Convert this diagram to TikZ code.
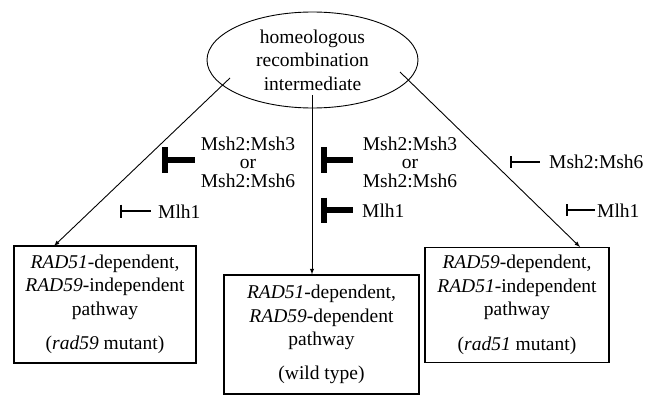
\documentclass[tikz,border=0pt]{standalone}
\usepackage{fontspec}
\setmainfont{Liberation Serif}
\usetikzlibrary{shapes.geometric}
\usetikzlibrary{arrows}

\begin{document}
\begin{tikzpicture}[x=1pt,y=-1pt,>=latex,
  pathbox/.style={draw,line width=1.1pt,inner sep=0pt,align=center,
    font=\fontsize{19.5}{23.5}\selectfont},
  weakbar/.style={line width=1.1pt},
  strongbar/.style={line width=5.5pt},
  factor/.style={inner sep=0pt,align=center,font=\fontsize{19.5}{18.5}\selectfont}]
  \path [fill=white] (0,0) rectangle (654,396);
  \useasboundingbox (0,0) rectangle (654,396);
  % the intermediate
  \node [ellipse,draw,line width=0.9pt,minimum width=211pt,minimum height=96pt,
    inner sep=0pt,align=center,font=\fontsize{19.5}{23.5}\selectfont]
    (hri) at (312.5,60) {homeologous\\recombination\\intermediate};
  % the three pathways
  \node [pathbox,minimum width=182pt,minimum height=117pt] (rad59mut) at (105,304.5)
    {\textit{RAD51}-dependent,\\\textit{RAD59}-independent\\pathway\\[11pt](\textit{rad59} mutant)};
  \node [pathbox,minimum width=195pt,minimum height=119pt] (wt) at (321.5,334.5)
    {\textit{RAD51}-dependent,\\\textit{RAD59}-dependent\\pathway\\[10.5pt](wild type)};
  \node [pathbox,minimum width=184pt,minimum height=115pt] (rad51mut) at (517,305)
    {\textit{RAD59}-dependent,\\\textit{RAD51}-independent\\pathway\\[11pt](\textit{rad51} mutant)};
  \coordinate (hL) at (230,78);
  \coordinate (bL) at (54,246);
  \draw [->,line width=0.9pt] (hL) -- (bL);
  \coordinate (hM) at (312,95);
  \draw [->,line width=0.9pt] (hM) -- (hM |- wt.north);
  \coordinate (hR) at (400,72);
  \coordinate (bR) at (580,247);
  \draw [->,line width=0.9pt] (hR) -- (bR);
  % inhibitors
  \coordinate (iL) at (165,160);
  \draw [strongbar] (iL) ++(0,-13) -- ++(0,26);
  \draw [strongbar] (iL) -- ++(30,0);
  \node [factor] (mshL) at (248,162) {Msh2:Msh3\\or\\Msh2:Msh6};
  \coordinate (jL) at (121,211);
  \draw [weakbar] (jL) ++(0,-6.5) -- ++(0,13);
  \draw [weakbar] (jL) -- ++(30,0);
  \node [factor,anchor=west] (mlhL) at (158,212) {Mlh1};
  \coordinate (iM) at (324,160);
  \draw [strongbar] (iM) ++(0,-13) -- ++(0,26);
  \draw [strongbar] (iM) -- ++(29,0);
  \node [factor] (mshM) at (410,162) {Msh2:Msh3\\or\\Msh2:Msh6};
  \coordinate (jM) at (324,210);
  \draw [strongbar] (jM) ++(0,-12.5) -- ++(0,25);
  \draw [strongbar] (jM) -- ++(29,0);
  \node [factor,anchor=west] (mlhM) at (362,211) {Mlh1};
  \coordinate (iR) at (511,162);
  \draw [weakbar] (iR) ++(0,-6) -- ++(0,12);
  \draw [weakbar] (iR) -- ++(29,0);
  \node [factor,anchor=west] (mshR) at (549,162) {Msh2:Msh6};
  \coordinate (jR) at (567,210);
  \draw [weakbar] (jR) ++(0,-6) -- ++(0,12);
  \draw [weakbar] (jR) -- ++(28,0);
  \node [factor,anchor=west] (mlhR) at (597,211) {Mlh1};
\end{tikzpicture}
\end{document}
